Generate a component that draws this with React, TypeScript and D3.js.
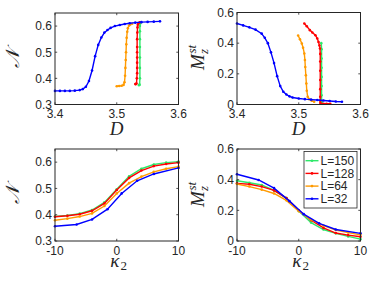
import React from "react";
import * as d3 from "d3";

// ---------- data ----------
const seriesNames = ["L=150", "L=128", "L=64", "L=32"];
const seriesColors = ["#2ee86a", "#ff0000", "#ff9a00", "#0000ff"];

// Top-left: N vs D
const tlGreenD = [3.536, 3.537, 3.5375, 3.5375, 3.5375, 3.5375, 3.5375, 3.5375, 3.5375, 3.538, 3.538];
const tlGreenN = [0.374, 0.376, 0.40, 0.44, 0.48, 0.52, 0.55, 0.58, 0.60, 0.610, 0.613];
const tlRedD = [3.530, 3.531, 3.532, 3.5325, 3.533, 3.533, 3.533, 3.533, 3.533, 3.533, 3.533, 3.5333, 3.5336, 3.534, 3.535, 3.537];
const tlRedN = [0.378, 0.378, 0.380, 0.40, 0.42, 0.44, 0.46, 0.48, 0.50, 0.52, 0.55, 0.575, 0.595, 0.605, 0.611, 0.614];
const tlOrangeD = [3.500, 3.504, 3.508, 3.511, 3.5125, 3.5135, 3.514, 3.5145, 3.515, 3.5155, 3.516, 3.517, 3.518, 3.520, 3.522, 3.525];
const tlOrangeN = [0.370, 0.371, 0.372, 0.375, 0.385, 0.41, 0.44, 0.47, 0.50, 0.53, 0.555, 0.578, 0.592, 0.602, 0.606, 0.609];
const tlBlueD = [3.400, 3.408, 3.416, 3.424, 3.432, 3.440, 3.445, 3.450, 3.455, 3.460, 3.465, 3.470, 3.475, 3.480, 3.485, 3.490, 3.497, 3.505, 3.513, 3.521, 3.530, 3.540, 3.550, 3.560, 3.570];
const tlBlueN = [0.352, 0.352, 0.352, 0.352, 0.353, 0.355, 0.359, 0.368, 0.390, 0.430, 0.485, 0.528, 0.556, 0.575, 0.585, 0.593, 0.600, 0.604, 0.608, 0.611, 0.613, 0.615, 0.616, 0.617, 0.618];

// Top-right: Mz^st vs D
const trGreenD = [3.5365, 3.537, 3.537, 3.537, 3.537, 3.537, 3.537, 3.537, 3.5375];
const trGreenM = [0.40, 0.36, 0.30, 0.24, 0.18, 0.12, 0.06, 0.02, 0.008];
const trRedD = [3.509, 3.513, 3.518, 3.522, 3.527, 3.530, 3.532, 3.5335, 3.5344, 3.5348, 3.5348, 3.5348, 3.5348, 3.5348, 3.5348, 3.5348, 3.535, 3.536, 3.540, 3.545, 3.551];
const trRedM = [0.528, 0.51, 0.485, 0.47, 0.452, 0.43, 0.408, 0.385, 0.365, 0.33, 0.28, 0.22, 0.16, 0.10, 0.05, 0.025, 0.01, 0.005, 0.005, 0.005, 0.005];
const trOrangeD = [3.499, 3.502, 3.505, 3.507, 3.509, 3.510, 3.5106, 3.5115, 3.5123, 3.513, 3.5145, 3.517, 3.521, 3.525];
const trOrangeM = [0.450, 0.425, 0.398, 0.37, 0.333, 0.29, 0.245, 0.19, 0.137, 0.09, 0.05, 0.035, 0.025, 0.018];
const trBlueD = [3.400, 3.410, 3.420, 3.430, 3.440, 3.445, 3.450, 3.455, 3.460, 3.465, 3.470, 3.475, 3.480, 3.485, 3.490, 3.500, 3.510, 3.520, 3.530, 3.540, 3.550, 3.560, 3.570];
const trBlueM = [0.528, 0.516, 0.503, 0.488, 0.462, 0.435, 0.40, 0.34, 0.27, 0.185, 0.12, 0.083, 0.065, 0.053, 0.046, 0.039, 0.035, 0.032, 0.029, 0.026, 0.023, 0.020, 0.018];

// Bottom: vs kappa2
const kappa = [-10, -8, -6, -4, -2, 0, 2, 4, 6, 8, 10];
const kappaBlue = [-10, -6.5, -4, -1.5, 0.8, 3.3, 6, 10];
const blGreenN = [0.393, 0.397, 0.404, 0.418, 0.447, 0.497, 0.546, 0.575, 0.591, 0.598, 0.602];
const blRedN = [0.392, 0.396, 0.402, 0.415, 0.443, 0.494, 0.540, 0.568, 0.585, 0.593, 0.598];
const blOrangeN = [0.379, 0.385, 0.393, 0.405, 0.433, 0.481, 0.520, 0.545, 0.563, 0.575, 0.583];
const blBlueN = [0.356, 0.363, 0.382, 0.421, 0.481, 0.529, 0.555, 0.578];

const brGreenM = [0.393, 0.380, 0.365, 0.330, 0.280, 0.195, 0.120, 0.075, 0.050, 0.030, 0.012];
const brRedM = [0.376, 0.370, 0.355, 0.330, 0.280, 0.200, 0.135, 0.085, 0.052, 0.038, 0.028];
const brOrangeM = [0.372, 0.355, 0.335, 0.310, 0.265, 0.195, 0.140, 0.100, 0.072, 0.055, 0.040];
const brBlueM = [0.435, 0.398, 0.345, 0.260, 0.175, 0.115, 0.075, 0.050];

const ticksD = [3.4, 3.5, 3.6];
const ticksN = [0.3, 0.4, 0.5, 0.6];
const ticksM = [0, 0.2, 0.4, 0.6];
const ticksK = [-10, 0, 10];

const zip = (xs: number[], ys: number[]) => xs.map((x, i) => [x, ys[i]] as [number, number]);

const AXC = "#262626";
const TICKFONT = "'Liberation Sans', Arial, Helvetica, sans-serif";
const LABFONT = "'Liberation Serif', 'Times New Roman', serif";

type Series = { pts: [number, number][]; color: string };

function Panel(props: {
  left: number; top: number; width: number; height: number;
  xDomain: [number, number]; yDomain: [number, number];
  xTicks: number[]; yTicks: number[];
  xFmt: (v: number) => string; yFmt: (v: number) => string;
  series: Series[];
  children?: React.ReactNode;
}) {
  const { left, top, width, height } = props;
  const x = d3.scaleLinear().domain(props.xDomain).range([left, left + width]);
  const y = d3.scaleLinear().domain(props.yDomain).range([top + height, top]);
  const line = d3.line<[number, number]>().x((d) => x(d[0])).y((d) => y(d[1]));
  const tl = 2.2;
  return (
    <g>
      <rect x={left} y={top} width={width} height={height} fill="white" />
      {props.series.map((s, i) => (
        <g key={i}>
          <path d={line(s.pts) || ""} fill="none" stroke={s.color} strokeWidth={1.4} />
          {s.pts.map((p, j) => (
            <circle key={j} cx={x(p[0])} cy={y(p[1])} r={1.3} fill={s.color} />
          ))}
        </g>
      ))}
      {props.xTicks.map((t) => (
        <g key={"x" + t}>
          <line x1={x(t)} x2={x(t)} y1={top + height} y2={top + height - tl} stroke={AXC} strokeWidth={0.8} />
          <line x1={x(t)} x2={x(t)} y1={top} y2={top + tl} stroke={AXC} strokeWidth={0.8} />
          <text x={x(t)} y={top + height + 13.5} textAnchor="middle" fontSize={12} fontFamily={TICKFONT} fill={AXC}>
            {props.xFmt(t)}
          </text>
        </g>
      ))}
      {props.yTicks.map((t) => (
        <g key={"y" + t}>
          <line x1={left} x2={left + tl} y1={y(t)} y2={y(t)} stroke={AXC} strokeWidth={0.8} />
          <line x1={left + width} x2={left + width - tl} y1={y(t)} y2={y(t)} stroke={AXC} strokeWidth={0.8} />
          <text x={left - 3} y={y(t) + 4.3} textAnchor="end" fontSize={12} fontFamily={TICKFONT} fill={AXC}>
            {props.yFmt(t)}
          </text>
        </g>
      ))}
      <rect x={left} y={top} width={width} height={height} fill="none" stroke={AXC} strokeWidth={1} />
      {props.children}
    </g>
  );
}

const fmtDefault = (v: number) => (v === 0 ? "0" : String(v));

function NLabel({ cx, cy }: { cx: number; cy: number }) {
  return (
    <text transform={`translate(${cx},${cy}) rotate(-90)`} textAnchor="middle" fontSize={19}
      fontFamily={LABFONT} fontStyle="italic" fill={AXC}>𝒩</text>
  );
}

function MLabel({ cx, cy }: { cx: number; cy: number }) {
  // cx: baseline x on screen, cy: center along axis
  return (
    <g transform={`translate(${cx},${cy}) rotate(-90)`} fill={AXC} fontFamily={LABFONT} fontStyle="italic">
      <text x={-12} y={0} fontSize={19}>M</text>
      <text x={4} y={4} fontSize={13}>z</text>
      <text x={4.5} y={-8} fontSize={13}>st</text>
    </g>
  );
}

function DLabel({ cx, by }: { cx: number; by: number }) {
  return (
    <text x={cx} y={by} textAnchor="middle" fontSize={19} fontFamily={LABFONT} fontStyle="italic" fill={AXC}>D</text>
  );
}

function KLabel({ cx, by }: { cx: number; by: number }) {
  return (
    <g fill={AXC} fontFamily={LABFONT}>
      <text x={cx - 2} y={by} textAnchor="middle" fontSize={19} fontStyle="italic">κ</text>
      <text x={cx + 7} y={by + 3} textAnchor="middle" fontSize={13}>2</text>
    </g>
  );
}

export default function App() {
  const W = 123.5;
  const H1 = 91.5;
  const H2 = 92;
  const tlSeries: Series[] = [
    { pts: zip(tlGreenD, tlGreenN), color: seriesColors[0] },
    { pts: zip(tlRedD, tlRedN), color: seriesColors[1] },
    { pts: zip(tlOrangeD, tlOrangeN), color: seriesColors[2] },
    { pts: zip(tlBlueD, tlBlueN), color: seriesColors[3] },
  ];
  const trSeries: Series[] = [
    { pts: zip(trGreenD, trGreenM), color: seriesColors[0] },
    { pts: zip(trRedD, trRedM), color: seriesColors[1] },
    { pts: zip(trOrangeD, trOrangeM), color: seriesColors[2] },
    { pts: zip(trBlueD, trBlueM), color: seriesColors[3] },
  ];
  const blSeries: Series[] = [
    { pts: zip(kappa, blGreenN), color: seriesColors[0] },
    { pts: zip(kappa, blRedN), color: seriesColors[1] },
    { pts: zip(kappa, blOrangeN), color: seriesColors[2] },
    { pts: zip(kappaBlue, blBlueN), color: seriesColors[3] },
  ];
  const brSeries: Series[] = [
    { pts: zip(kappa, brGreenM), color: seriesColors[0] },
    { pts: zip(kappa, brRedM), color: seriesColors[1] },
    { pts: zip(kappa, brOrangeM), color: seriesColors[2] },
    { pts: zip(kappaBlue, brBlueM), color: seriesColors[3] },
  ];

  const legX = 304, legY = 151.5, legW = 53, legH = 56.5;

  return (
    <svg width={374} height={281} style={{ position: "absolute", left: 0, top: 0, background: "white" }}>
      <rect x={0} y={0} width={374} height={281} fill="white" />
      <Panel left={55} top={13} width={W} height={H1} xDomain={[3.4, 3.6]} yDomain={[0.3, 0.65]}
        xTicks={ticksD} yTicks={ticksN} xFmt={fmtDefault} yFmt={fmtDefault} series={tlSeries} />
      <Panel left={237} top={12.5} width={W} height={H1 + 0.5} xDomain={[3.4, 3.6]} yDomain={[0, 0.6]}
        xTicks={ticksD} yTicks={ticksM} xFmt={fmtDefault} yFmt={fmtDefault} series={trSeries} />
      <Panel left={55} top={149} width={W} height={H2} xDomain={[-10, 10]} yDomain={[0.3, 0.65]}
        xTicks={ticksK} yTicks={ticksN} xFmt={fmtDefault} yFmt={fmtDefault} series={blSeries} />
      <Panel left={237} top={149} width={W} height={H2} xDomain={[-10, 10]} yDomain={[0, 0.6]}
        xTicks={ticksK} yTicks={ticksM} xFmt={fmtDefault} yFmt={fmtDefault} series={brSeries}>
        <g>
          <rect x={legX} y={legY} width={legW} height={legH} fill="white" stroke={AXC} strokeWidth={0.8} />
          {seriesNames.map((n, i) => {
            const yy = legY + 9.2 + i * 12.7;
            return (
              <g key={n}>
                <line x1={legX + 1.5} x2={legX + 14.5} y1={yy} y2={yy} stroke={seriesColors[i]} strokeWidth={1.4} />
                <circle cx={legX + 8} cy={yy} r={1.3} fill={seriesColors[i]} />
                <text x={legX + 16.5} y={yy + 4.2} fontSize={12} fontFamily={TICKFONT} fill={AXC}>{n}</text>
              </g>
            );
          })}
        </g>
      </Panel>
      <NLabel cx={19} cy={58.5} />
      <MLabel cx={204} cy={58} />
      <NLabel cx={19} cy={195} />
      <MLabel cx={204} cy={195} />
      <DLabel cx={116.7} by={134.5} />
      <DLabel cx={298.7} by={134.5} />
      <KLabel cx={116.7} by={267} />
      <KLabel cx={298.7} by={267} />
    </svg>
  );
}
